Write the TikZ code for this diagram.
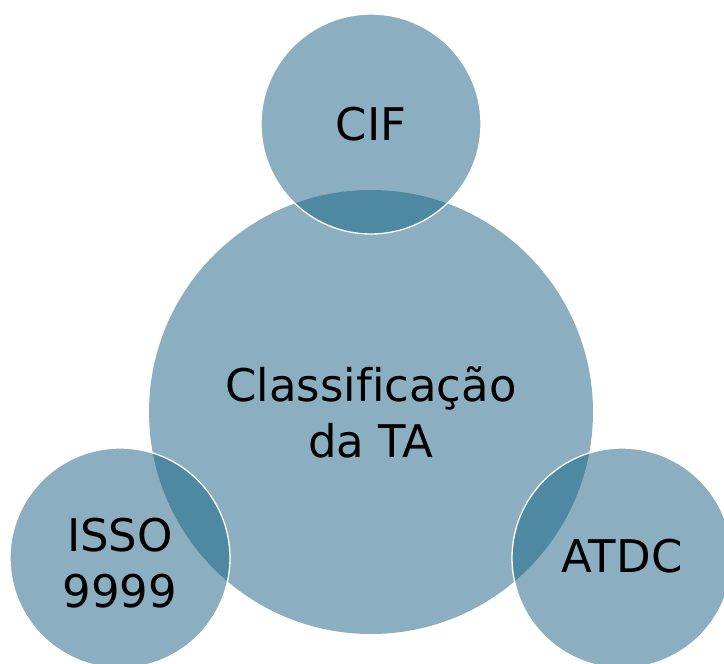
\documentclass[tikz,border=0pt]{standalone}
\usepackage{fontspec}
\setmainfont[Ligatures=NoCommon]{DejaVu Sans}
\definecolor{discblue}{HTML}{8BAFC1}
\definecolor{lensblue}{HTML}{4F88A1}
\tikzset{
  disc/.style={circle, fill=discblue, inner sep=0pt},
  disctext/.style={align=center, text=black, font=\fontsize{45}{56}\selectfont},
  rim/.style={draw=white, line width=1.3pt}
}

\begin{document}
\begin{tikzpicture}[x=1pt,y=-1pt]
   \useasboundingbox (0,0) rectangle (724,664);
   % circles
   \node[disc, minimum size=444pt] (ta) at (371,412) {};
   \node[disc, minimum size=220pt] (cif) at (371,124) {};
   \node[disc, minimum size=220pt] (isso) at (120,558) {};
   \node[disc, minimum size=220pt] (atdc) at (622,558) {};
   % overlaps
   \begin{scope}
      \clip (ta.center) circle[radius=222pt];
      \fill[lensblue] (cif.center) circle[radius=110pt];
      \fill[lensblue] (isso.center) circle[radius=110pt];
      \fill[lensblue] (atdc.center) circle[radius=110pt];
   \end{scope}
   \draw[rim] (cif.center) circle[radius=110pt];
   \draw[rim] (isso.center) circle[radius=110pt];
   \draw[rim] (atdc.center) circle[radius=110pt];
   % labels
   \node[disctext] (tatext) at (ta) {Classificação\\da TA};
   \node[disctext] (ciftext) at (cif) {CIF};
   \node[disctext] (issotext) at ([yshift=-5pt]isso.center) {ISSO\\9999};
   \node[disctext] (atdctext) at ([yshift=2pt]atdc.center) {ATDC};
\end{tikzpicture}
\end{document}
